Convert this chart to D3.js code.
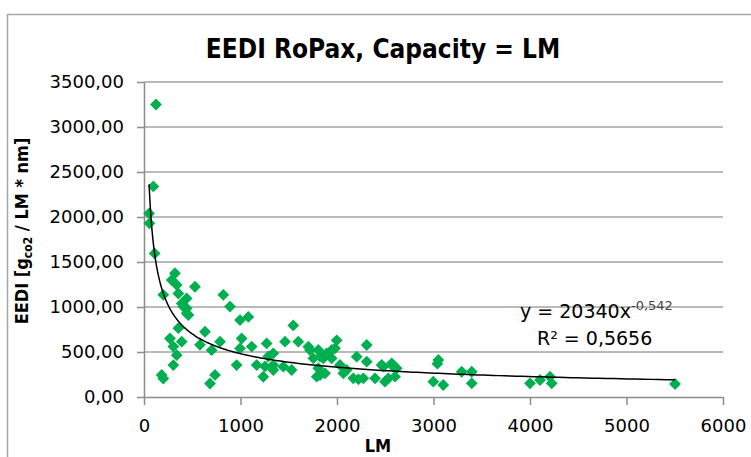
<!DOCTYPE html>
<html>
<head>
<meta charset="utf-8">
<script src="https://cdn.jsdelivr.net/npm/d3@7"></script>
<style>
  body { margin: 0; background: #fff; }
  svg { display: block; font-family: "DejaVu Sans", sans-serif; }
</style>
</head>
<body>
<svg id="chart"></svg>
<script>
// capacity (LM) of each ship
const lm = [
  53, 56, 97, 124, 110,
  321, 287, 339, 528, 200, 356, 442, 391, 442, 460, 408, 442,
  356, 269, 391, 304, 580, 339, 304, 183, 200,
  822, 891, 995, 1081, 632, 701, 788, 1012, 995, 1116, 1271, 960, 1168, 1254, 1340, 1236, 736, 684, 1288,
  1547, 1461, 1599, 1340, 1340, 1444, 1530, 1703, 1806, 1755, 1997, 1979, 1945, 1893, 1806, 1790, 1876,
  2031, 2066, 2169, 2273, 2308, 2204, 2308, 2394, 2480, 2584, 2497, 2601, 2100, 1720, 1824, 1824, 1945,
  2463, 2567, 2618, 2532, 2221, 1858,
  3050, 3040, 2998, 3101, 3292, 3396, 3396, 4000, 4104, 4207, 4225, 5503
];
// attained EEDI [g co2 / LM * nm]
const eedi = [
  2040, 1930, 2340, 3250, 1595,
  1375, 1300, 1245, 1225, 1135, 1150, 1095, 1040, 985, 910, 1005, 930,
  765, 650, 615, 560, 580, 465, 355, 245, 205,
  1135, 1005, 855, 890, 725, 520, 615, 650, 540, 560, 595, 355, 355, 340, 355, 225, 245, 150, 450,
  795, 615, 615, 485, 300, 337, 300, 559, 522, 430, 630, 541, 430, 485, 319, 226, 263,
  356, 263, 207, 207, 578, 448, 393, 207, 337, 337, 170, 226, 300, 522, 448, 244, 522,
  356, 374, 319, 207, 196, 430,
  411, 370, 170, 133, 281, 281, 152, 152, 189, 226, 152, 144
];

const xTicks = [0, 1000, 2000, 3000, 4000, 5000, 6000];
const yTicks = [0, 500, 1000, 1500, 2000, 2500, 3000, 3500];
const yTickLabels = ["0,00", "500,00", "1000,00", "1500,00", "2000,00", "2500,00", "3000,00", "3500,00"];

// power trend line y = a * x^b
const trendA = 20340;
const trendB = -0.542;

const width = 751, height = 457;
const svg = d3.select("#chart").attr("width", width).attr("height", height);

// chart frame
svg.append("rect")
  .attr("x", 7.5).attr("y", 14.5)
  .attr("width", 780).attr("height", 500)
  .attr("fill", "none")
  .attr("stroke", "#a6a6a6")
  .attr("stroke-width", 1.5);

const x = d3.scaleLinear().domain([0, 6000]).range([144, 723]);
const y = d3.scaleLinear().domain([0, 3500]).range([397, 82]);

// gridlines
svg.append("g")
  .selectAll("line")
  .data(yTicks.slice(1))
  .join("line")
  .attr("x1", x(0)).attr("x2", x(6000))
  .attr("y1", d => y(d)).attr("y2", d => y(d))
  .attr("stroke", "#a3a3a3")
  .attr("stroke-width", 1.4);

// axes
const yAxis = svg.append("g")
  .attr("transform", `translate(${x(0)},0)`)
  .call(d3.axisLeft(y).tickValues(yTicks)
    .tickFormat((d, i) => yTickLabels[i])
    .tickSize(7).tickSizeOuter(0).tickPadding(13));

const xAxis = svg.append("g")
  .attr("transform", `translate(0,${y(0)})`)
  .call(d3.axisBottom(x).tickValues(xTicks)
    .tickFormat(d3.format("d"))
    .tickSize(8).tickSizeOuter(0).tickPadding(14));

[yAxis, xAxis].forEach(g => {
  g.selectAll("path, line").attr("stroke", "#8c8c8c").attr("stroke-width", 1.5);
  g.selectAll("text").attr("fill", "#000").style("font-size", "18px")
    .style("font-family", "'DejaVu Sans', sans-serif");
});

// points
const pts = lm.map((v, i) => ({ lm: v, eedi: eedi[i] }));
const diamond = d3.symbol().type(d3.symbolSquare).size(70);
svg.append("g")
  .selectAll("path")
  .data(pts)
  .join("path")
  .attr("d", diamond)
  .attr("transform", d => `translate(${x(d.lm)},${y(d.eedi)}) rotate(45)`)
  .attr("fill", "#00b050");

// trend line
const lmMin = d3.min(lm), lmMax = d3.max(lm);
const trend = d3.range(0, 301).map(i => {
  const t = i / 300;
  const v = lmMin * Math.pow(lmMax / lmMin, t);
  return [v, trendA * Math.pow(v, trendB)];
});
svg.append("path")
  .datum(trend)
  .attr("d", d3.line().x(d => x(d[0])).y(d => y(d[1])))
  .attr("fill", "none")
  .attr("stroke", "#000")
  .attr("stroke-width", 1.5);

// title
svg.append("text")
  .attr("x", 383).attr("y", 58)
  .attr("text-anchor", "middle")
  .style("font-size", "26px")
  .style("font-weight", "bold")
  .style("font-family", "'DejaVu Sans Condensed', 'DejaVu Sans', sans-serif")
  .text("EEDI RoPax, Capacity = LM");

// axis titles
const yt = svg.append("text")
  .attr("transform", "translate(28,231) rotate(-90)")
  .attr("text-anchor", "middle")
  .style("font-size", "18px")
  .style("font-weight", "bold")
  .style("font-family", "'DejaVu Sans Condensed', 'DejaVu Sans', sans-serif");
yt.append("tspan").text("EEDI [g");
yt.append("tspan").attr("dy", 4).style("font-size", "12px").text("co2");
yt.append("tspan").attr("dy", -4).text(" / LM * nm]");

svg.append("text")
  .attr("x", 378).attr("y", 452)
  .attr("text-anchor", "middle")
  .style("font-size", "18px")
  .style("font-weight", "bold")
  .style("font-family", "'DejaVu Sans Condensed', 'DejaVu Sans', sans-serif")
  .text("LM");

// equation
const eq = svg.append("text")
  .attr("x", 520).attr("y", 318)
  .style("font-size", "19px");
eq.append("tspan").text("y = 20340x");
eq.append("tspan").attr("dy", -8).style("font-size", "13px").attr("fill", "#444").text("-0,542");

svg.append("text")
  .attr("x", 537).attr("y", 345)
  .style("font-size", "19px")
  .text("R² = 0,5656");
</script>
</body>
</html>
